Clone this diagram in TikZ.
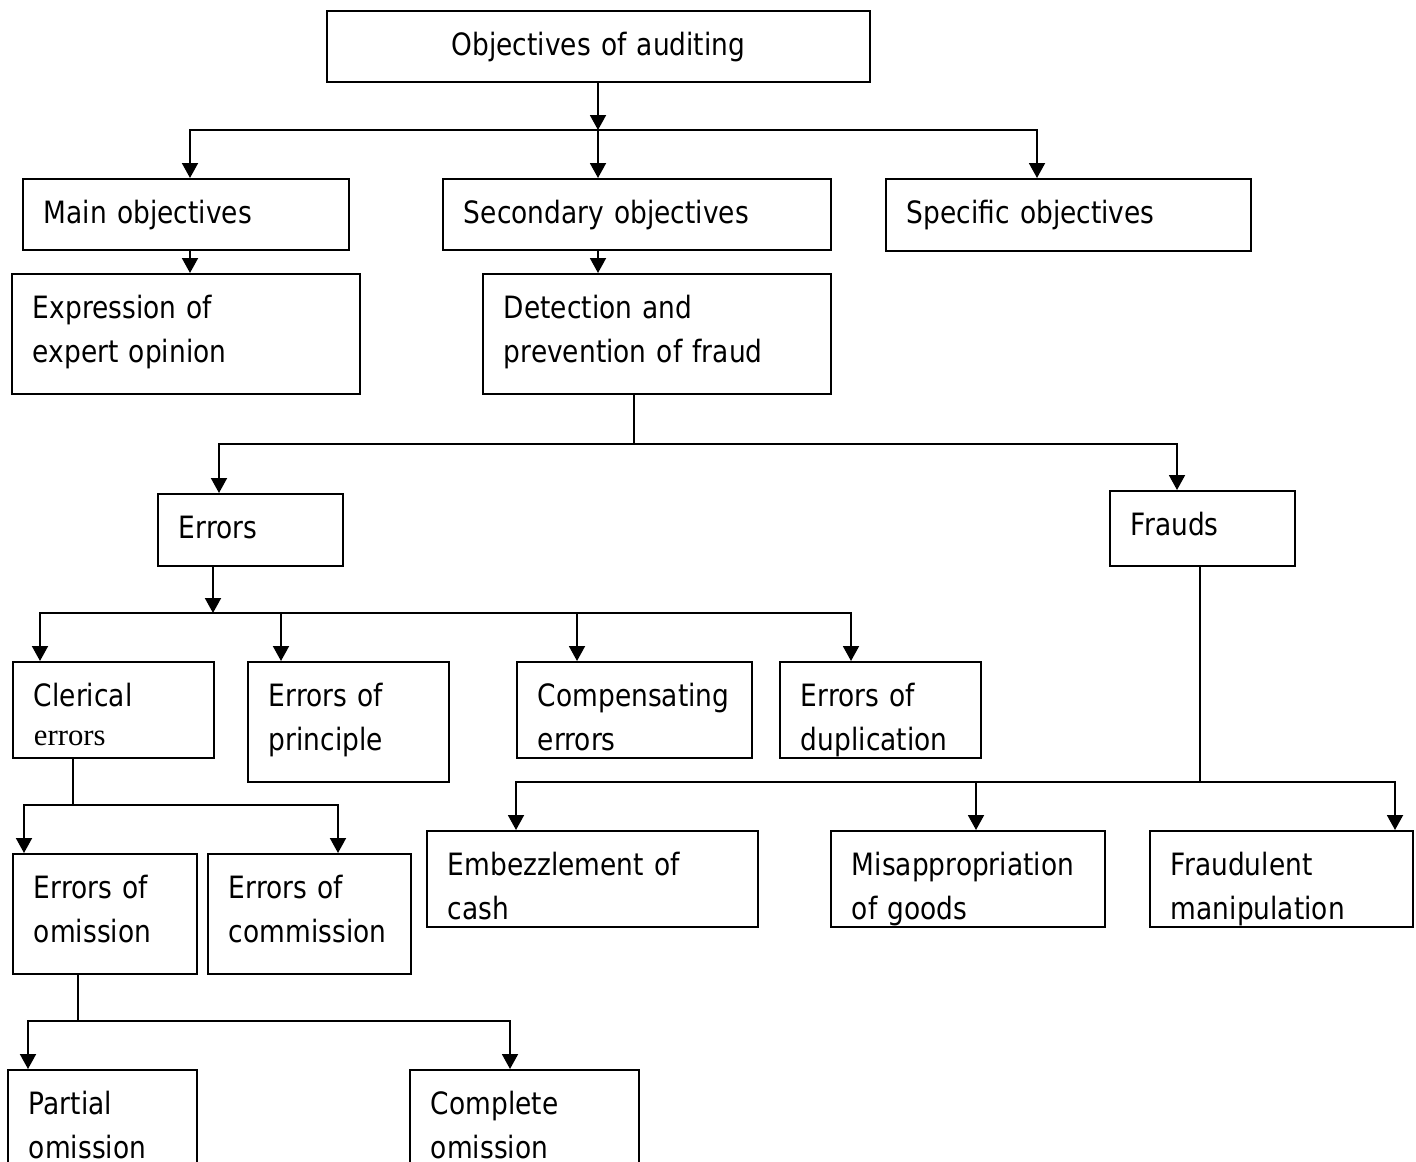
\documentclass[tikz,border=0pt]{standalone}
\usepackage{fontspec}
\setmainfont[FakeStretch=0.86]{DejaVu Sans}
\newfontfamily\romfont{Liberation Serif}
\usetikzlibrary{arrows.meta}

\begin{document}
\begin{tikzpicture}[x=0.02cm, y=-0.02cm,
  box/.style 2 args={rectangle, draw, line width=1.1pt, anchor=north west, align=left, inner xsep=0.42cm, inner ysep=0pt, text width={#1*0.02cm-0.84cm}, text height=0.9cm, text depth={#2*0.02cm-0.9cm}, font=\fontsize{17.5}{25}\selectfont},
  arr/.style={-{Triangle[length=0.3cm, width=0.32cm]}, line width=1.1pt},
  bus/.style={line width=1.1pt, line cap=rect},
  link/.style={line width=0.6pt}]
\useasboundingbox (0,0) rectangle (1416,1162);

\node[box={543}{71}, align=center] (top) at (326,10) {Objectives of auditing};
\node[box={326}{71}] (main) at (22,178) {Main objectives};
\node[box={388}{71}] (sec) at (442,178) {Secondary objectives};
\node[box={365}{72}] (spec) at (885,178) {Specific objectives};
\node[box={348}{120}] (expr) at (11,273) {Expression of\\expert opinion};
\node[box={348}{120}] (detect) at (482,273) {Detection and\\prevention of fraud};
\node[box={185}{72}] (err) at (157,493) {Errors};
\node[box={185}{75}] (frauds) at (1109,490) {Frauds};
\node[box={201}{96}] (cler) at (12,661) {Clerical\\[-0.1cm]{\romfont errors}};
\node[box={201}{120}] (princ) at (247,661) {Errors of\\principle};
\node[box={235}{96}] (comp) at (516,661) {Compensating\\errors};
\node[box={201}{96}] (dupl) at (779,661) {Errors of\\duplication};
\node[box={184}{120}] (omis) at (12,853) {Errors of\\omission};
\node[box={203}{120}] (commis) at (207,853) {Errors of\\commission};
\node[box={189}{120}] (partial) at (7,1069) {Partial\\omission};
\node[box={229}{120}] (complete) at (409,1069) {Complete\\omission};
\node[box={331}{96}] (embez) at (426,830) {Embezzlement of\\cash};
\node[box={274}{96}] (misap) at (830,830) {Misappropriation\\of goods};
\node[box={263}{96}] (fmanip) at (1149,830) {Fraudulent\\manipulation};

% top level
\coordinate (j1) at (598,130);
\coordinate (j1l) at (190,130);
\coordinate (j1r) at (1037,130);
\draw[arr] (top.south -| j1) -- (j1);
\draw[bus] (j1l) -- (j1r);
\draw[arr] (j1l) -- (j1l |- main.north);
\draw[arr] (j1) -- (j1 |- sec.north);
\draw[arr] (j1r) -- (j1r |- spec.north);
\draw[arr] (main.south -| j1l) -- (expr.north -| j1l);
\draw[arr] (sec.south -| j1) -- (detect.north -| j1);

% errors and frauds
\coordinate (j2) at (634,444);
\coordinate (j2l) at (219,444);
\coordinate (j2r) at (1177,444);
\draw[link] (detect.south -| j2) -- (j2);
\draw[bus] (j2l) -- (j2r);
\draw[arr] (j2l) -- (j2l |- err.north);
\draw[arr] (j2r) -- (j2r |- frauds.north);

% kinds of errors
\coordinate (j3) at (213,613);
\coordinate (j3l) at (40,613);
\coordinate (j3a) at (281,613);
\coordinate (j3b) at (577,613);
\coordinate (j3r) at (851,613);
\draw[arr] (err.south -| j3) -- (j3);
\draw[bus] (j3l) -- (j3r);
\draw[arr] (j3l) -- (j3l |- cler.north);
\draw[arr] (j3a) -- (j3a |- princ.north);
\draw[arr] (j3b) -- (j3b |- comp.north);
\draw[arr] (j3r) -- (j3r |- dupl.north);

% clerical errors
\coordinate (j4) at (73,805);
\coordinate (j4l) at (24,805);
\coordinate (j4r) at (338,805);
\draw[link] (cler.south -| j4) -- (j4);
\draw[bus] (j4l) -- (j4r);
\draw[arr] (j4l) -- (j4l |- omis.north);
\draw[arr] (j4r) -- (j4r |- commis.north);

% omission
\coordinate (j5) at (78,1021);
\coordinate (j5l) at (28,1021);
\coordinate (j5r) at (510,1021);
\draw[link] (omis.south -| j5) -- (j5);
\draw[bus] (j5l) -- (j5r);
\draw[arr] (j5l) -- (j5l |- partial.north);
\draw[arr] (j5r) -- (j5r |- complete.north);

% kinds of frauds
\coordinate (j6) at (1200,782);
\coordinate (j6l) at (516,782);
\coordinate (j6m) at (976,782);
\coordinate (j6r) at (1395,782);
\draw[link] (frauds.south -| j6) -- (j6);
\draw[bus] (j6l) -- (j6r);
\draw[arr] (j6l) -- (j6l |- embez.north);
\draw[arr] (j6m) -- (j6m |- misap.north);
\draw[arr] (j6r) -- (j6r |- fmanip.north);
\end{tikzpicture}
\end{document}
